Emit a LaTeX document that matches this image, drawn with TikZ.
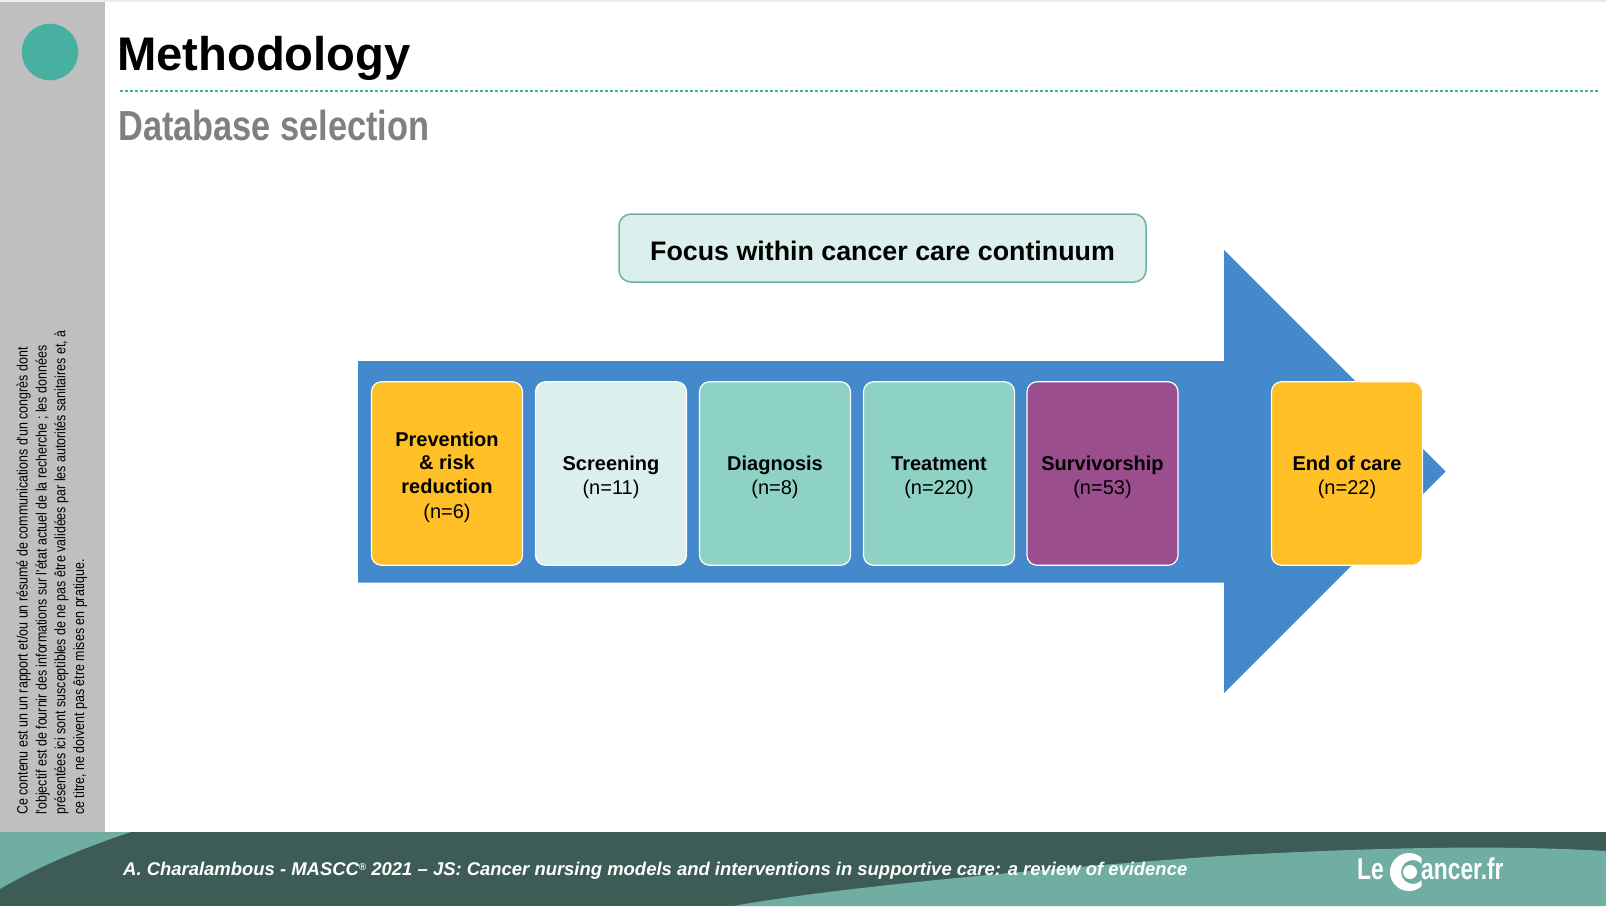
\documentclass[tikz,border=0pt]{standalone}
\usepackage{fontspec}
\setmainfont{Liberation Sans}
\newfontfamily\subfont[FakeStretch=0.818]{Liberation Sans}
\newfontfamily\sidefont[FakeStretch=0.83]{Liberation Sans}
\newfontfamily\logofont[FakeStretch=0.76]{Liberation Sans}
\usepackage{tikz}

\definecolor{sidegrey}{HTML}{BFBFBF}
\definecolor{teal}{HTML}{48B0A0}
\definecolor{arrowblue}{HTML}{4389CB}
\definecolor{stageyellow}{HTML}{FFBF26}
\definecolor{stagepale}{HTML}{DBF0EC}
\definecolor{stagemid}{HTML}{8ED2C5}
\definecolor{stagepurple}{HTML}{9B4E8D}
\definecolor{footdark}{HTML}{3C5C55}
\definecolor{footlight}{HTML}{70AEA3}
\newcommand{\stagehead}[1]{\rule{0pt}{22pt}\textbf{#1}}

\begin{document}
\begin{tikzpicture}
      [x=1pt, y=-1pt,
      stage/.style={rectangle, rounded corners=10pt, draw=white, line width=1.2pt,
        minimum width=151pt, minimum height=183.5pt, inner sep=0pt, align=center,
        font=\fontsize{20}{23.5}\selectfont},
      focus/.style={rectangle, rounded corners=12pt, draw=footlight, line width=1.5pt, fill=stagepale,
        minimum width=527pt, minimum height=68pt, inner sep=0pt, align=center,
        execute at begin node={\rule{0pt}{26pt}},
        font=\fontsize{26.8}{32}\selectfont\bfseries}]
      \useasboundingbox (0, 0) rectangle (1606, 906);
      \fill[white] (0, 0) rectangle (1606, 906);
      \fill[black!8] (0, 0) rectangle (1606, 2);
      \fill[sidegrey] (0, 2) rectangle (105, 832);
      \fill[teal] (50, 52) circle (28.3);
      \draw[teal, line width=2.5pt, dash pattern=on 2.8pt off 2.2pt] (120, 91) -- (1598, 91);
      \node (title) at (117, 70) [anchor=base west, inner sep=0pt, font=\fontsize{47.2}{50}\selectfont\bfseries] {Methodology};
      \node (sub) at (118, 140) [anchor=base west, inner sep=0pt, text=black!50, font=\fontsize{42}{46}\subfont\bfseries] {Database selection};
      \node (disclaimer) at (16.5, 815) [rotate=90, anchor=north west, inner sep=0pt, align=left, font=\fontsize{15}{18.8}\sidefont]
      {Ce contenu est un un rapport et/ou un résumé de communications d'un congrès dont\\
      l'objectif est de fournir des informations sur l'état actuel de la recherche ; les données\\
      présentées ici sont susceptibles de ne pas être validées par les autorités sanitaires et, à\\
      ce titre, ne doivent pas être mises en pratique.};
      \node (focus) at (882.5, 248) [focus] {Focus within cancer care continuum};
      \fill[arrowblue] (358, 361) -- (1224, 361) -- (1224, 250) -- (1445.5, 471.5) -- (1224, 693) -- (1224, 582.5) -- (358, 582.5) -- cycle;
      \node (prevention) at (447, 473.5) [stage, fill=stageyellow] {\stagehead{Prevention}\\\textbf{\& risk}\\\textbf{reduction}\\[2pt](n=6)};
      \node (screening) at (611, 473.5) [stage, fill=stagepale] {\stagehead{Screening}\\(n=11)};
      \node (diagnosis) at (775, 473.5) [stage, fill=stagemid] {\stagehead{Diagnosis}\\(n=8)};
      \node (treatment) at (939, 473.5) [stage, fill=stagemid] {\stagehead{Treatment}\\(n=220)};
      \node (survivorship) at (1102.5, 473.5) [stage, fill=stagepurple] {\stagehead{Survivorship}\\(n=53)};
      \node (endcare) at (1347, 473.5) [stage, fill=stageyellow] {\stagehead{End of care}\\(n=22)};
      \fill[footdark] (0, 832) rectangle (1606, 906);
      \fill[footlight] (0, 832) -- (131, 832) .. controls (85, 847) and (35, 868) .. (0, 889) -- cycle;
      \fill[footlight] (733, 906) .. controls (850, 885) and (1080, 866) .. (1220, 856) .. controls (1310, 851) and (1470, 843) .. (1606, 851) -- (1606, 906) -- cycle;
      \node (credit) at (123, 875.5) [anchor=base west, inner sep=0pt, text=white, font=\fontsize{18.45}{22}\selectfont\bfseries\itshape]
      {A. Charalambous - MASCC\raisebox{0.5ex}{\fontsize{10}{10}\selectfont ®} 2021 – JS: Cancer nursing models and interventions in supportive care: a review of evidence};
      \node (logole) at (1357, 879) [anchor=base west, inner sep=0pt, text=white, font=\fontsize{30}{32}\logofont\bfseries] {Le};
      \node (logoancer) at (1421, 879) [anchor=base west, inner sep=0pt, text=white, font=\fontsize{30}{32}\logofont\bfseries] {ancer.fr};
      \fill[white] (1409, 872) ++(48:19) arc (48:312:19) -- (1421.5, 863.5) arc (315:45:12) -- cycle;
      \fill[white] (1410, 872) circle (7);
    \end{tikzpicture}
\end{document}
